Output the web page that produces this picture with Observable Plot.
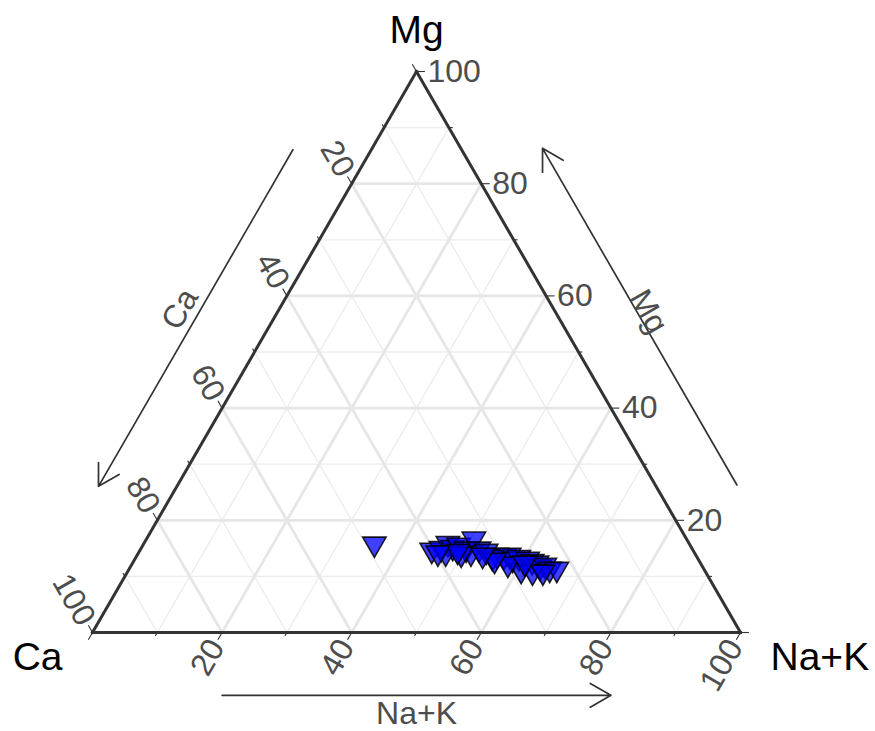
<!DOCTYPE html>
<html><head><meta charset="utf-8">
<script src="https://cdn.jsdelivr.net/npm/d3@7"></script>
<script src="https://cdn.jsdelivr.net/npm/@observablehq/plot@0.6"></script>
<style>body{margin:0;background:#fff;}</style>
</head><body><div id="chart"></div>
<script>
// ---- data (percent) ----
const caVals  = [48.6,40.3,38.7,37.2,36.8,35.7,34.9,32.8,32.9,34.5,32.0,30.7,29.7,28.8,28.6,27.5,28.3,26.3,25.8,25.2,25.1,24.2,23.8,22.7,38.4,36.1,31.6,29.8,26.7,25.1,31.5,36.4,39.6,32.9,27.1];
const mgVals  = [15.8,14.7,15.0,15.9,15.2,15.6,14.9,16.7,14.9,14.2,14.5,13.8,13.6,13.8,13.1,13.4,11.1,13.1,12.7,12.4,11.7,12.0,11.3,11.3,14.2,14.0,13.4,12.2,10.8,10.8,12.9,14.5,14.2,13.8,12.4];
const nakVals = [35.6,45.0,46.3,46.9,48.0,48.7,50.2,50.5,52.2,51.3,53.5,55.5,56.7,57.4,58.3,59.1,60.6,60.6,61.5,62.4,63.2,63.8,64.9,66.0,47.4,49.9,55.0,58.0,62.5,64.1,55.6,49.1,46.2,53.3,60.5];
const majorTicks = [20,40,60,80,100];
const tickLabels = ["20","40","60","80","100"];
const minorTicks = [10,30,50,70,90];
const gridMajor = [20,40,60,80];
const vertexNames = ["Ca","Mg","Na+K"];
const arrowNames = ["Ca","Mg","Na+K"];

// ---- ternary -> cartesian ----
const S3 = Math.sqrt(3)/2;
const TX = (ca, mg, nak) => (nak + mg/2) * 100 / (ca+mg+nak);
const TY = (ca, mg, nak) => mg * S3 * 100 / (ca+mg+nak);
const seg = (a, b) => ({x1: TX(...a), y1: TY(...a), x2: TX(...b), y2: TY(...b)});
const pt = (a) => ({x: TX(...a), y: TY(...a)});

const points = caVals.map((c,i) => pt([c, mgVals[i], nakVals[i]]));

function gridFor(vals){
  const out = [];
  for (const v of vals){
    out.push(seg([100-v, v, 0],[0, v, 100-v]));     // Mg const
    out.push(seg([v, 100-v, 0],[v, 0, 100-v]));     // Ca const
    out.push(seg([100-v, 0, v],[0, 100-v, v]));     // Na+K const
  }
  return out;
}
const edges = [seg([100,0,0],[0,0,100]), seg([0,0,100],[0,100,0]), seg([0,100,0],[100,0,0])];

function ticksFor(vals, k){
  const out = [];
  for (const v of vals){
    out.push(seg([0, v, 100-v],[-k, v, 100-v+k]));     // Mg on right
    out.push(seg([v, 100-v, 0],[v, 100-v+k, -k]));     // Ca on left
    out.push(seg([100-v, 0, v],[100-v+k, -k, v]));     // Na+K bottom
  }
  return out;
}
const K = 1.7;
const mgLab  = majorTicks.map((v,i) => ({...pt([-K, v, 100-v+K]), t: tickLabels[i]}));
const caLab  = majorTicks.map((v,i) => ({...pt([v, 100-v+K, -K]), t: tickLabels[i]}));
const nakLab = majorTicks.map((v,i) => ({...pt([100-v+K, -K, v]), t: tickLabels[i]}));

// arrows: offset perpendicular to edges, from 20% to 80% of each edge
const cL = 12.1, cR = 12.6, cB = 11.2;
const arrows = [
  seg([20+cL/2, 80+cL/2, -cL],[80+cL/2, 20+cL/2, -cL]),
  seg([-cR, 20+cR/2, 80+cR/2],[-cR, 80+cR/2, 20+cR/2]),
  seg([80+cB/2, -cB, 20+cB/2],[20+cB/2, -cB, 80+cB/2])
];
const dL = cL+3.2, dR = cR+1.8, dB = cB+3.2;
const arrowLab = [
  {...pt([50+dL/2, 50+dL/2, -dL]), t: arrowNames[0], r: -60},
  {...pt([-dR, 50+dR/2, 50+dR/2]), t: arrowNames[1], r: 60},
  {...pt([50+dB/2, -dB, 50+dB/2]), t: arrowNames[2], r: 0}
];
const vCa = {...pt([100,0,0]), t: vertexNames[0]};
const vMg = {...pt([0,100,0]), t: vertexNames[1]};
const vNa = {...pt([0,0,100]), t: vertexNames[2]};

const triangleDown = { draw(ctx, size){ const y = Math.sqrt(size/(Math.sqrt(3)*3)); ctx.moveTo(0, 2*y); ctx.lineTo(-Math.sqrt(3)*y, -y); ctx.lineTo(Math.sqrt(3)*y, -y); ctx.closePath(); } };

const L = {x1:"x1", y1:"y1", x2:"x2", y2:"y2"};
const tickFill = "#4d4d4d";
const tickSize = 32, vertexSize = 39;

const chart = Plot.plot({
  width: 875, height: 731, margin: 0,
  x: {domain: [0,100], range: [92,740], axis: null},
  y: {domain: [0,100*S3], range: [632,71], axis: null},
  style: {background: "#fff", fontFamily: "'Liberation Sans', Arial, Helvetica, sans-serif"},
  marks: [
    Plot.link(gridFor(minorTicks), {...L, stroke:"#ececec", strokeWidth:1.3}),
    Plot.link(gridFor(gridMajor), {...L, stroke:"#e6e6e6", strokeWidth:2.8}),
    Plot.link(ticksFor([0,...majorTicks], 1.3), {...L, stroke:"#333", strokeWidth:1.1}),
    Plot.link(ticksFor(minorTicks, 0.6), {...L, stroke:"#333", strokeWidth:1.1}),
    Plot.link(edges, {...L, stroke:"#333", strokeWidth:3, strokeLinecap:"square"}),
    Plot.text(mgLab, {x:"x", y:"y", text:"t", textAnchor:"start", lineAnchor:"middle", fontSize:tickSize, fill:tickFill}),
    Plot.text(caLab, {x:"x", y:"y", text:"t", rotate:60, textAnchor:"end", lineAnchor:"middle", fontSize:tickSize, fill:tickFill}),
    Plot.text(nakLab, {x:"x", y:"y", text:"t", rotate:-60, textAnchor:"end", lineAnchor:"middle", fontSize:tickSize, fill:tickFill}),
    Plot.arrow(arrows, {...L, stroke:"#333", strokeWidth:1.7, headLength:21, headAngle:60}),
    Plot.text(arrowLab, {x:"x", y:"y", text:"t", rotate:"r", lineAnchor:"middle", fontSize:tickSize, fill:tickFill}),
    Plot.text([vMg], {x:"x", y:"y", text:"t", dy:-41, lineAnchor:"middle", fontSize:vertexSize, fill:"#000"}),
    Plot.text([vCa], {x:"x", y:"y", text:"t", dx:-30, dy:25, textAnchor:"end", lineAnchor:"middle", fontSize:vertexSize, fill:"#000"}),
    Plot.text([vNa], {x:"x", y:"y", text:"t", dx:30, dy:25, textAnchor:"start", lineAnchor:"middle", fontSize:vertexSize, fill:"#000"}),
    Plot.dot(points, {x:"x", y:"y", symbol: triangleDown, r: 8.7, fill:"#0000ff", fillOpacity:0.75, stroke:"#000", strokeOpacity:0.85, strokeWidth:1.6})
  ]
});
document.getElementById("chart").appendChild(chart);
</script>
</body></html>
